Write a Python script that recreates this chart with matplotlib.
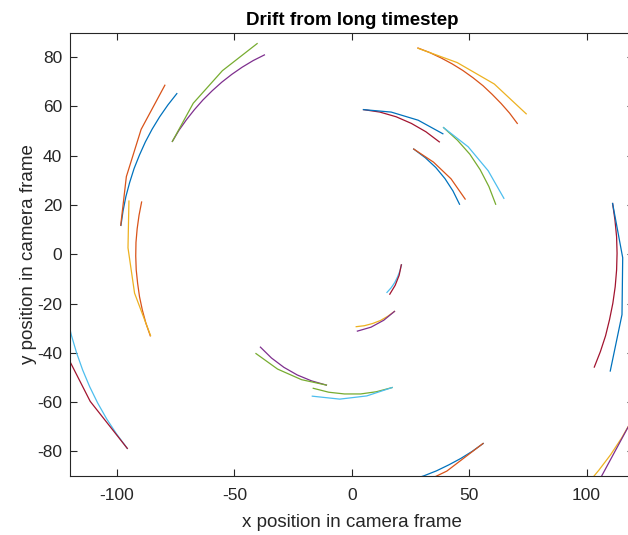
import matplotlib.pyplot as plt
from cycler import cycler

# MATLAB default line colours, in order
line_colors = ['#0072BD', '#D95319', '#EDB120', '#7E2F8E',
               '#77AC30', '#4DBEEE', '#A2142F']

# exact circular paths (one list per particle)
exact_x = [
    [-98.3, -97.4, -96.2, -94.6, -92.7, -90.4, -87.9, -85.0, -81.8, -78.3, -74.5],
    [119.2, 115.0, 110.3, 105.2, 99.8, 94.0, 87.8, 81.3, 74.6, 67.5, 60.3],
    [39.1, 45.0, 50.3, 54.7, 58.4, 61.3],
    [5.0, 12.0, 18.9, 25.4, 31.6, 37.3],
    [28.2, 33.1, 38.0, 42.7, 47.3, 51.7, 55.9, 59.8, 63.6, 67.2, 70.5],
    [-76.4, -73.6, -70.4, -67.0, -63.4, -59.5, -55.4, -51.1, -46.7, -42.0, -37.2],
    [-95.6, -100.2, -104.4, -108.2, -111.6, -114.6, -117.2, -119.4, -121.2, -122.5, -123.4],
    [26.4, 31.3, 35.8, 39.7, 43.1, 45.9],
    [18.2, 15.3, 12.2, 8.9, 5.4, 1.9],
    [17.2, 10.5, 3.8, -3.1, -9.8, -16.4],
    [111.1, 112.1, 112.8, 113.0, 112.8, 112.2, 111.2, 109.8, 108.1, 105.9, 103.3],
    [-85.8, -87.7, -89.2, -90.4, -91.2, -91.8, -92.0, -91.9, -91.4, -90.6, -89.5],
    [-10.8, -17.1, -23.2, -28.9, -34.2, -38.9],
    [21.2, 20.5, 19.5, 18.3, 16.8, 15.0],
    [56.0, 51.3, 46.4, 41.3, 36.1, 30.8, 25.3, 19.8, 14.2, 8.5, 2.8],
]
exact_y = [
    [11.7, 17.6, 23.4, 29.1, 34.8, 40.3, 45.6, 50.8, 55.8, 60.6, 65.2],
    [-67.5, -74.5, -81.3, -87.7, -93.9, -99.7, -105.2, -110.3, -114.9, -119.2, -123.0],
    [51.4, 46.3, 40.6, 34.3, 27.5, 20.3],
    [58.7, 57.7, 55.8, 53.1, 49.7, 45.6],
    [83.7, 81.9, 79.7, 77.3, 74.6, 71.6, 68.4, 64.9, 61.2, 57.3, 53.1],
    [45.8, 50.3, 54.6, 58.7, 62.6, 66.3, 69.8, 73.0, 75.9, 78.6, 80.9],
    [-78.8, -72.9, -66.8, -60.4, -53.8, -47.0, -40.0, -32.9, -25.7, -18.4, -11.0],
    [42.7, 39.2, 35.2, 30.7, 25.7, 20.3],
    [-23.2, -25.2, -26.9, -28.1, -29.0, -29.4],
    [-54.1, -55.8, -56.7, -56.7, -56.0, -54.4],
    [20.6, 13.9, 7.1, 0.4, -6.4, -13.2, -19.9, -26.5, -33.1, -39.5, -45.8],
    [-33.1, -27.9, -22.6, -17.2, -11.8, -6.3, -0.7, 4.8, 10.3, 15.8, 21.2],
    [-53.1, -51.4, -49.0, -45.9, -42.1, -37.7],
    [-4.3, -6.8, -9.2, -11.5, -13.6, -15.5],
    [-76.8, -80.0, -82.9, -85.5, -87.9, -89.9, -91.6, -92.9, -93.9, -94.6, -95.0],
]

# same particles stepped with the long timestep
euler_x = [
    [-98.4, -96.0, -89.7, -79.6],
    [119.2, 105.7, 87.4, 64.9],
    [39.1, 49.6, 58.1, 64.8],
    [5.0, 16.8, 28.3, 38.8],
    [28.2, 44.9, 60.7, 74.3],
    [-76.4, -67.5, -55.1, -40.3],
    [-95.6, -111.4, -123.3, -130.8],
    [26.4, 34.8, 42.3, 48.3],
    [18.2, 13.6, 8.2, 2.4],
    [17.2, 6.4, -5.1, -16.8],
    [111.1, 115.4, 115.1, 110.1],
    [-85.7, -92.5, -95.3, -94.9],
    [-10.8, -21.4, -31.6, -40.8],
    [21.1, 20.2, 18.5, 16.2],
    [55.9, 40.5, 22.9, 3.7],
]
euler_y = [
    [11.8, 31.5, 50.7, 68.6],
    [-67.5, -91.3, -112.4, -129.9],
    [51.4, 43.6, 33.9, 22.7],
    [58.7, 57.7, 54.4, 48.9],
    [83.6, 77.8, 69.1, 57.0],
    [45.8, 61.3, 74.5, 85.5],
    [-78.8, -59.7, -37.4, -12.7],
    [42.7, 37.4, 30.6, 22.4],
    [-23.2, -26.8, -29.6, -31.2],
    [-54.1, -57.5, -58.8, -57.6],
    [20.6, -1.4, -24.5, -47.4],
    [-33.0, -15.8, 2.6, 21.6],
    [-53.1, -50.9, -46.6, -40.3],
    [-4.3, -8.5, -12.6, -16.2],
    [-76.8, -88.0, -96.1, -100.7],
]

plt.rcParams['font.family'] = ['Liberation Sans', 'DejaVu Sans']
plt.rcParams['axes.unicode_minus'] = False
plt.rcParams['axes.prop_cycle'] = cycler(color=line_colors)

fig = plt.figure(figsize=(6.28, 5.35), dpi=100)
ax = fig.add_axes([70 / 628, 59 / 535, 563.5 / 628, 443.5 / 535])

for k in range(len(exact_x)):
    ax.plot(exact_x[k], exact_y[k], linewidth=0.9)
    ax.plot(euler_x[k], euler_y[k], linewidth=0.9)

ax.set_xlim(-120, 120)
ax.set_ylim(-90, 90)
ax.set_xticks([-100, -50, 0, 50, 100])
ax.set_yticks([-80, -60, -40, -20, 0, 20, 40, 60, 80])

axis_gray = '#262626'
for s in ax.spines.values():
    s.set_color(axis_gray)
    s.set_linewidth(0.8)
ax.tick_params(direction='in', top=True, right=True, length=5, width=0.8,
               color=axis_gray, labelcolor=axis_gray, labelsize=12.5)
ax.tick_params(axis='x', pad=9)
ax.tick_params(axis='y', pad=5.5)

ax.set_title('Drift from long timestep', fontsize=13.5, fontweight='bold', pad=5.5)
ax.set_xlabel('x position in camera frame', fontsize=13.5, color=axis_gray,
              labelpad=7.5)
ax.set_ylabel('y position in camera frame', fontsize=13.5, color=axis_gray,
              labelpad=0.5)

fig.savefig('out.png', dpi=100)
